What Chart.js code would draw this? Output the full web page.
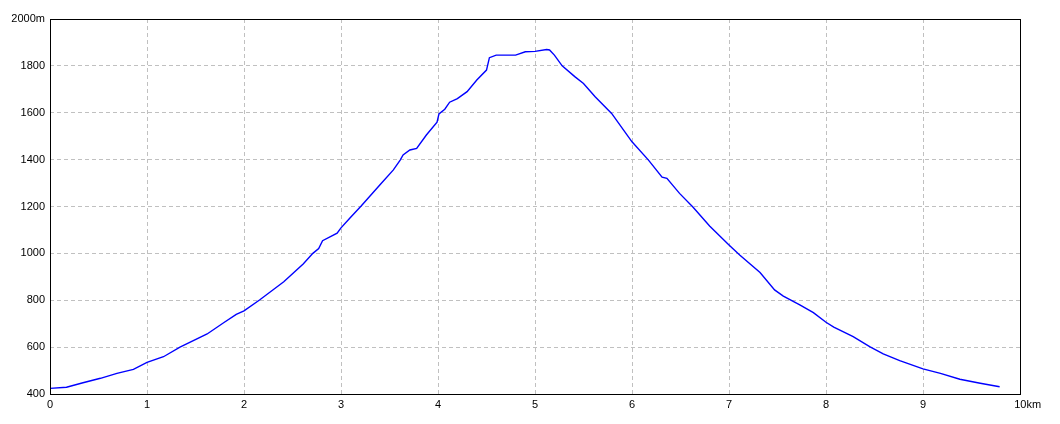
<!DOCTYPE html>
<html>
<head>
<meta charset="utf-8">
<script src="https://cdn.jsdelivr.net/npm/chart.js@4.4.0/dist/chart.umd.min.js"></script>
<style>
  html, body { margin: 0; padding: 0; background: #fff; }
  #wrap { width: 1060px; height: 424px; position: relative; }
</style>
</head>
<body>
<div id="wrap"><canvas id="c" width="1060" height="424"></canvas></div>
<script>
// Distance along the route (km)
const distanceKm = [
  0, 0.17, 0.34, 0.52, 0.69, 0.86, 1.0, 1.17, 1.34, 1.62, 1.79, 1.92, 2.0, 2.16, 2.41, 2.61,
  2.71, 2.77, 2.81, 2.96, 3.0, 3.09, 3.21, 3.4, 3.54, 3.61, 3.64, 3.71, 3.78, 3.88, 3.99, 4.01,
  4.07, 4.12, 4.2, 4.3, 4.4, 4.5, 4.53, 4.6, 4.8, 4.9, 5.0, 5.12, 5.15, 5.2, 5.28, 5.41,
  5.5, 5.62, 5.79, 6.0, 6.17, 6.31, 6.36, 6.49, 6.63, 6.8, 7.0, 7.11, 7.32, 7.47, 7.56, 7.73,
  7.87, 8.0, 8.08, 8.28, 8.45, 8.59, 8.76, 9.0, 9.18, 9.38, 9.59, 9.79
];
// Elevation (m)
const elevationM = [
  424, 429, 448, 467, 488, 505, 535, 559, 600, 656, 704, 740, 755, 801, 879, 955,
  1000, 1021, 1054, 1086, 1109, 1150, 1203, 1292, 1356, 1398, 1420, 1441, 1448, 1505, 1560, 1595,
  1615, 1645, 1660, 1690, 1740, 1782, 1835, 1846, 1846, 1860, 1862, 1870, 1868, 1846, 1800, 1754,
  1725, 1668, 1597, 1476, 1398, 1325, 1320, 1256, 1197, 1117, 1036, 993, 918, 844, 818, 780,
  747, 706, 685, 645, 602, 571, 542, 507, 488, 463, 446, 431
];
const yMin = 400, yMax = 2000, yStep = 200;
const xMin = 0, xMax = 10, xStep = 1;
const yTopUnit = 'm';
const xTopUnit = 'km';

const points = distanceKm.map((d, i) => ({ x: d, y: elevationM[i] }));

const frame = {
  id: 'frame',
  afterDraw(chart) {
    const a = chart.chartArea, ctx = chart.ctx;
    ctx.save();
    ctx.strokeStyle = '#000';
    ctx.lineWidth = 1;
    ctx.strokeRect(Math.round(a.left) + 0.5, Math.round(a.top) + 0.5,
                   Math.round(a.right - a.left), Math.round(a.bottom - a.top));
    ctx.restore();
  }
};

const tickFont = { family: 'Liberation Sans, Arial, sans-serif', size: 11 };

new Chart(document.getElementById('c'), {
  type: 'line',
  data: {
    datasets: [{
      data: points,
      borderColor: '#0000ff',
      borderWidth: 1.4,
      pointRadius: 0,
      tension: 0,
      fill: false
    }]
  },
  options: {
    responsive: false,
    animation: false,
    events: [],
    layout: { padding: { top: 19, right: 40, left: 0, bottom: 0 } },
    plugins: { legend: { display: false }, tooltip: { enabled: false } },
    scales: {
      x: {
        type: 'linear',
        min: xMin, max: xMax,
        ticks: {
          stepSize: xStep,
          color: '#000',
          font: tickFont,
          padding: 4,
          maxRotation: 0,
          callback: v => v === xMax ? '     ' + v + xTopUnit : String(v)
        },
        grid: {
          color: ctx => (ctx.tick && (ctx.tick.value === xMin || ctx.tick.value === xMax)) ? 'rgba(0,0,0,0)' : '#c0c0c0',
          lineWidth: 1,
          drawTicks: false
        },
        border: { display: false, dash: [4, 3] },
        afterFit: s => { s.height = 30; }
      },
      y: {
        min: yMin, max: yMax,
        ticks: {
          stepSize: yStep,
          color: '#000',
          font: tickFont,
          padding: 5,
          callback: v => v === yMax ? v + yTopUnit : String(v)
        },
        grid: {
          color: ctx => (ctx.tick && (ctx.tick.value === yMin || ctx.tick.value === yMax)) ? 'rgba(0,0,0,0)' : '#c0c0c0',
          lineWidth: 1,
          drawTicks: false
        },
        border: { display: false, dash: [4, 3] },
        afterFit: s => { s.width = 50; }
      }
    }
  },
  plugins: [frame]
});
</script>
</body>
</html>
